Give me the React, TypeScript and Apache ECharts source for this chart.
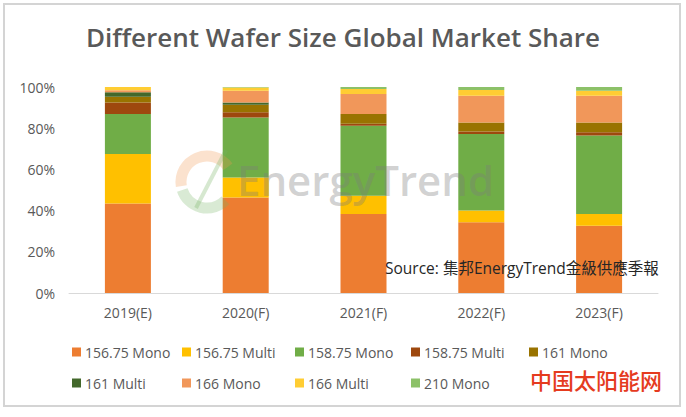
import React, { useEffect, useRef } from "react";
import * as echarts from "echarts";

const categories = ["2019(E)", "2020(F)", "2021(F)", "2022(F)", "2023(F)"];
const seriesNames = [
  "156.75 Mono",
  "156.75 Multi",
  "158.75 Mono",
  "158.75 Multi",
  "161 Mono",
  "161 Multi",
  "166 Mono",
  "166 Multi",
  "210 Mono",
];
const mono15675 = [43.5, 46.4, 38.3, 34.3, 32.7];
const multi15675 = [24.0, 9.7, 8.9, 5.7, 5.6];
const mono15875 = [19.4, 29.1, 34.0, 37.2, 38.1];
const multi15875 = [5.6, 2.5, 1.0, 1.2, 1.6];
const mono161 = [2.8, 3.7, 4.7, 4.4, 4.8];
const multi161 = [2.1, 1.1, 0, 0, 0];
const mono166 = [1.0, 5.7, 9.7, 13.0, 13.0];
const multi166 = [1.6, 1.6, 2.4, 2.7, 2.4];
const mono210 = [0, 0.2, 1.0, 1.5, 1.8];
const yTicks = [0, 20, 40, 60, 80, 100];

const seriesData = [
  mono15675,
  multi15675,
  mono15875,
  multi15875,
  mono161,
  multi161,
  mono166,
  multi166,
  mono210,
];
const colors = [
  "#ED7D31",
  "#FFC000",
  "#70AD47",
  "#9E480E",
  "#997300",
  "#43682B",
  "#F1975A",
  "#FFCD33",
  "#8CC168",
];
const legendPos = [
  [72, 345],
  [182, 345],
  [295, 345],
  [411, 345],
  [529, 345],
  [72, 376],
  [182, 376],
  [295, 376],
  [411, 376],
];

const FONT = "'Open Sans', 'Noto Sans', sans-serif";

export default function App() {
  const ref = useRef<HTMLDivElement>(null);
  useEffect(() => {
    if (!ref.current) return;
    const chart = echarts.init(ref.current, undefined, { renderer: "svg" });
    const option: any = {
      animation: false,
      backgroundColor: "#ffffff",
      color: colors,
      title: {
        text: "Different Wafer Size Global Market Share",
        left: "center",
        top: 19,
        textStyle: {
          fontFamily: FONT,
          fontSize: 26,
          fontWeight: 600,
          color: "#595959",
        },
      },
      legend: seriesNames.map((n, i) => ({
        data: [n],
        left: legendPos[i][0],
        top: legendPos[i][1],
        padding: 0,
        icon: "rect",
        itemWidth: 9,
        itemHeight: 9,
        itemGap: 4,
        selectedMode: false,
        textStyle: { fontFamily: FONT, fontSize: 14, color: "#595959", padding: [0, 0, 0, -1] },
      })),
      grid: { left: 69, right: 28, top: 87, bottom: 124 },
      xAxis: {
        type: "category",
        data: categories,
        axisLine: { lineStyle: { color: "#D9D9D9", width: 1 } },
        axisTick: { show: false },
        axisLabel: { fontFamily: FONT, fontSize: 14, color: "#595959", margin: 12 },
      },
      yAxis: {
        type: "value",
        min: yTicks[0],
        max: yTicks[yTicks.length - 1],
        interval: 20,
        axisLine: { show: false },
        axisTick: { show: false },
        splitLine: { show: false },
        axisLabel: {
          fontFamily: FONT,
          fontSize: 14,
          color: "#595959",
          margin: 14,
          formatter: (v: number) => v + "%",
        },
      },
      series: seriesNames.map((n, i) => ({
        name: n,
        type: "bar",
        stack: "total",
        barWidth: 46,
        data: seriesData[i],
        itemStyle: { color: colors[i] },
      })),
      graphic: [
        {
          type: "rect",
          shape: { x: 4, y: 4, width: 676, height: 402 },
          style: { fill: "none", stroke: "#D4D4D4", lineWidth: 2 },
          silent: true,
          z: 0,
        },
        {
          type: "arc",
          shape: { cx: 207, cy: 182, r: 26, startAngle: Math.PI * 0.95, endAngle: Math.PI * 1.8 },
          style: { stroke: "rgba(240,150,80,0.28)", lineWidth: 11, fill: "none" },
          silent: true,
          z: 100,
        },
        {
          type: "arc",
          shape: { cx: 207, cy: 182, r: 26, startAngle: Math.PI * 0.25, endAngle: Math.PI * 0.9 },
          style: { stroke: "rgba(120,180,100,0.28)", lineWidth: 11, fill: "none" },
          silent: true,
          z: 100,
        },
        {
          type: "line",
          shape: { x1: 196, y1: 208, x2: 226, y2: 150 },
          style: { stroke: "rgba(120,180,100,0.3)", lineWidth: 4 },
          silent: true,
          z: 100,
        },
        {
          type: "text",
          left: 237,
          top: 158,
          style: {
            text: "EnergyTrend",
            font: "600 42px 'Open Sans', sans-serif",
            fill: "rgba(125,125,125,0.36)",
          },
          silent: true,
          z: 100,
        },
        {
          type: "text",
          left: 385,
          top: 260,
          style: {
            text: "Source: 集邦EnergyTrend金級供應季報",
            font: "15.5px 'Open Sans', 'Noto Sans CJK TC', sans-serif",
            fill: "#262626",
          },
          silent: true,
          z: 101,
        },
        {
          type: "text",
          left: 530,
          top: 368,
          style: {
            text: "中国太阳能网",
            font: "500 22px 'Noto Sans CJK SC', sans-serif",
            fill: "#E53B1E",
          },
          silent: true,
          z: 101,
        },
      ],
    };
    chart.setOption(option);
    return () => chart.dispose();
  }, []);
  return (
    <div
      ref={ref}
      style={{ position: "absolute", left: 0, top: 0, width: 686, height: 417 }}
    />
  );
}
